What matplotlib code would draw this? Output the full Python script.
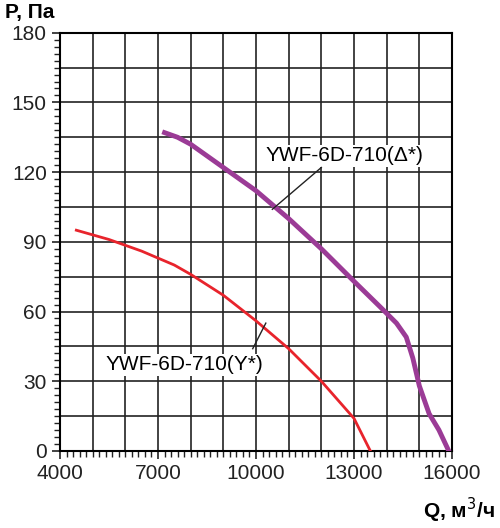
import matplotlib.pyplot as plt
import numpy as np
from matplotlib.ticker import MultipleLocator, FixedLocator

plt.rcParams['font.family'] = ['Liberation Sans', 'DejaVu Sans']

q_delta = [7200, 7600, 8000, 9000, 10000, 11000, 12000, 13000, 13800, 14300, 14600, 14800, 15000, 15300, 15600, 15900]
p_delta = [137, 135, 132, 122, 112, 100, 87, 73, 62, 55, 49, 40, 28, 16, 9, 0]
q_y = [4500, 5500, 6500, 7500, 8000, 9000, 10000, 11000, 12000, 12500, 13000, 13500]
p_y = [95, 91, 86, 80, 76, 67, 56, 44, 30, 22, 14, 0]
x_ticks = [4000, 7000, 10000, 13000, 16000]

fig = plt.figure(figsize=(5.0, 5.28), dpi=100)
ax = fig.add_axes([0.12, 0.146, 0.784, 0.792])
ax.set_xlim(4000, 16000)
ax.set_ylim(0, 180)
ax.xaxis.set_major_locator(FixedLocator(x_ticks))
ax.yaxis.set_major_locator(MultipleLocator(30))
ax.xaxis.set_minor_locator(MultipleLocator(200))
ax.yaxis.set_minor_locator(MultipleLocator(3))
for v in range(5000, 16000, 1000):
    ax.axvline(v, color='#222222', lw=1.2, zorder=1)
for v in range(15, 180, 15):
    ax.axhline(v, color='#222222', lw=1.2, zorder=1)
ax.tick_params(which='major', length=6, width=1.2, labelsize=15, colors='#222222')
ax.tick_params(which='minor', length=4, width=1, colors='#222222')
for s in ax.spines.values():
    s.set_linewidth(1.5)

ax.plot(q_delta, p_delta, color='#9b3b96', lw=3.5, zorder=3)
ax.plot(q_y, p_y, color='#e8242c', lw=2, zorder=3)

ax.text(10300, 127, 'YWF-6D-710(Δ*)', fontsize=15, ha='left', va='center',
        bbox=dict(facecolor='white', edgecolor='none', pad=1), zorder=4)
ax.plot([12000, 10500], [122, 104], color='#222222', lw=1, zorder=4)
ax.text(5400, 37, 'YWF-6D-710(Y*)', fontsize=15, ha='left', va='center',
        bbox=dict(facecolor='white', edgecolor='none', pad=1), zorder=4)
ax.plot([9900, 10300], [44, 55], color='#222222', lw=1, zorder=4)

fig.text(0.01, 0.995, 'P, Па', fontsize=15, fontweight='bold', va='top')
fig.text(0.99, 0.005, 'Q, м$^3$/ч', fontsize=15, fontweight='bold', ha='right', va='bottom')
fig.savefig('out.png', dpi=100)
